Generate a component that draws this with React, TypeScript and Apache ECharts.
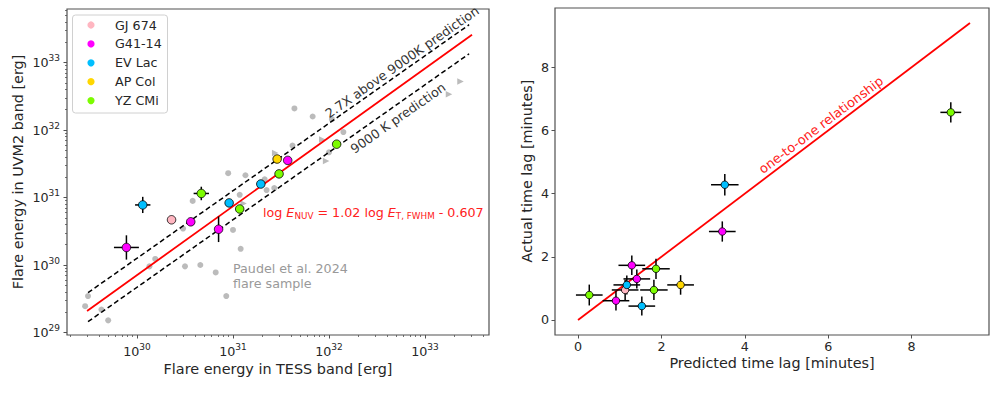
import React, { useEffect, useRef } from 'react';
import * as echarts from 'echarts';

const FONT = 'DejaVu Sans';

// ---------- shared star metadata ----------
const stars = ['GJ 674', 'G41-14', 'EV Lac', 'AP Col', 'YZ CMi'];
const starColors = ['#ffb6c1', '#ff00ff', '#00bfff', '#ffd700', '#7cfc00'];

// ---------- left panel: log10 flare energies [erg] ----------
const greyLogETess = [29.46, 29.49, 29.63, 29.70, 30.13, 30.19, 30.50, 30.66, 30.82, 30.93, 30.48, 30.58, 30.95, 31.13, 31.07, 31.00, 31.08, 31.33, 31.35, 31.43, 31.64, 31.83, 32.03, 32.15, 31.62, 32.00];
const greyLogEUvm2 = [29.39, 29.54, 29.34, 29.18, 29.98, 30.09, 29.98, 30.00, 29.89, 29.54, 30.54, 30.95, 31.36, 31.33, 31.04, 30.52, 30.24, 31.27, 31.11, 31.14, 32.32, 32.20, 32.16, 31.97, 31.77, 31.67];
const limitLogETess = [31.44, 31.93, 31.97, 33.25, 33.37, 31.11];
const limitLogEUvm2 = [31.66, 31.86, 31.54, 32.53, 32.72, 30.91];

const flareLogETess = [[30.36], [29.89, 30.56, 30.85, 31.57], [30.06, 30.96, 31.29], [31.46], [30.67, 31.07, 31.48, 32.08]];
const flareLogEUvm2 = [[30.67], [30.26, 30.64, 30.53, 31.55], [30.89, 30.92, 31.20], [31.57], [31.06, 30.83, 31.35, 31.79]];
const flareErrTess = [[0.03], [0.13, 0.03, 0.03, 0.03], [0.08, 0.03, 0.03], [0.03], [0.08, 0.03, 0.03, 0.03]];
const flareErrUvm2 = [[0.04], [0.18, 0.04, 0.19, 0.04], [0.12, 0.04, 0.04], [0.04], [0.10, 0.04, 0.04, 0.04]];

const fitLineLogETess = [29.48, 33.49];
const fitLineLogEUvm2 = [29.32, 33.41];
const predLineLogETess = [29.49, 33.46];
const pred9000KLogEUvm2 = [29.16, 33.13];
const pred27xLogEUvm2 = [29.59, 33.56];

const logMajorX = [30, 31, 32, 33];
const logMajorY = [29, 30, 31, 32, 33];

// ---------- right panel: time lags [minutes] ----------
const predictedLag = [[1.13], [0.91, 1.29, 1.41, 3.46], [1.17, 1.53, 3.52], [2.46], [0.27, 1.82, 1.87, 8.94]];
const actualLag = [[0.95], [0.61, 1.73, 1.30, 2.80], [1.11, 0.44, 4.28], [1.11], [0.79, 0.95, 1.62, 6.57]];
const predictedErr = [[0.32], [0.32, 0.32, 0.32, 0.32], [0.32, 0.32, 0.33], [0.32], [0.32, 0.33, 0.33, 0.25]];
const actualErr = [[0.32], [0.31, 0.31, 0.30, 0.32], [0.30, 0.30, 0.34], [0.31], [0.33, 0.32, 0.32, 0.32]];
const oneToOne = [0, 9.4];
const linTicks = [0, 2, 4, 6, 8];

// ---------- axis ranges (layout) ----------
const LX = [29.271, 33.667];
const LY = [28.963, 33.793];
const RX = [-0.552, 9.856];
const RY = [-0.475, 9.873];

const minorLog = (lo: number, hi: number) => {
  const out: number[] = [];
  for (let n = Math.floor(lo); n <= Math.ceil(hi); n++) {
    for (let k = 2; k <= 9; k++) {
      const v = n + Math.log10(k);
      if (v > lo && v < hi) out.push(v);
    }
  }
  return out;
};

const TXT = '#262626';
const FRAME = '#505050';

const powLabel = {
  formatter: (v: number) => `{b|10}{s|${Math.round(v)}}`,
  rich: {
    b: { fontFamily: FONT, fontSize: 12.7, color: TXT },
    s: { fontFamily: FONT, fontSize: 9, color: TXT, padding: [0, 0, 9, 0] },
  },
};

const errorBarItem = (params: any, api: any) => {
  const x = api.value(0), y = api.value(1), ex = api.value(2), ey = api.value(3);
  const l = api.coord([x - ex, y]), r = api.coord([x + ex, y]);
  const b = api.coord([x, y - ey]), t = api.coord([x, y + ey]);
  const style = { stroke: '#000', lineWidth: 1.5 };
  return {
    type: 'group',
    children: [
      { type: 'line', shape: { x1: l[0], y1: l[1], x2: r[0], y2: r[1] }, style },
      { type: 'line', shape: { x1: b[0], y1: b[1], x2: t[0], y2: t[1] }, style },
    ],
  };
};

function buildOption() {
  const series: any[] = [];

  series.push({
    type: 'scatter', xAxisIndex: 0, yAxisIndex: 0, z: 1, silent: true,
    symbolSize: 6, itemStyle: { color: '#aaaaaa' },
    data: greyLogETess.map((x, i) => [x, greyLogEUvm2[i]]),
  });
  series.push({
    type: 'scatter', xAxisIndex: 0, yAxisIndex: 0, z: 1, silent: true,
    symbol: 'triangle', symbolRotate: -90, symbolSize: 6.5, itemStyle: { color: '#aaaaaa' },
    data: limitLogETess.map((x, i) => [x, limitLogEUvm2[i]]),
  });

  const line = (xs: number[], ys: number[], color: string, type: any, width: number, xi: number) => ({
    type: 'line', xAxisIndex: xi, yAxisIndex: xi, z: 2, silent: true, showSymbol: false, symbol: 'none',
    lineStyle: { color, type, width },
    data: xs.map((x, i) => [x, ys[i]]),
  });
  series.push(line(predLineLogETess, pred27xLogEUvm2, '#000', [5, 3], 1.5, 0));
  series.push(line(predLineLogETess, pred9000KLogEUvm2, '#000', [5, 3], 1.5, 0));
  series.push(line(fitLineLogETess, fitLineLogEUvm2, '#ff0000', 'solid', 1.8, 0));
  series.push(line(oneToOne, oneToOne, '#ff0000', 'solid', 1.8, 2));

  const leftErr: number[][] = [];
  const rightErr: number[][] = [];
  stars.forEach((_, s) => {
    flareLogETess[s].forEach((x, j) => leftErr.push([x, flareLogEUvm2[s][j], flareErrTess[s][j], flareErrUvm2[s][j]]));
    predictedLag[s].forEach((x, j) => rightErr.push([x, actualLag[s][j], predictedErr[s][j], actualErr[s][j]]));
  });
  series.push({ type: 'custom', xAxisIndex: 0, yAxisIndex: 0, z: 3, silent: true, renderItem: errorBarItem, encode: { x: 0, y: 1 }, data: leftErr });
  series.push({ type: 'custom', xAxisIndex: 2, yAxisIndex: 2, z: 3, silent: true, renderItem: errorBarItem, encode: { x: 0, y: 1 }, data: rightErr });

  stars.forEach((name, s) => {
    series.push({
      name, type: 'scatter', xAxisIndex: 0, yAxisIndex: 0, z: 5, silent: true,
      symbolSize: 8.5, itemStyle: { color: starColors[s], borderColor: '#000', borderWidth: 0.8, opacity: 1 },
      data: flareLogETess[s].map((x, j) => [x, flareLogEUvm2[s][j]]),
    });
    series.push({
      name: name + ' lag', type: 'scatter', xAxisIndex: 2, yAxisIndex: 2, z: 5, silent: true,
      symbolSize: 7.5, itemStyle: { color: starColors[s], borderColor: '#000', borderWidth: 0.8, opacity: 1 },
      data: predictedLag[s].map((x, j) => [x, actualLag[s][j]]),
    });
  });

  const baseAxis = {
    type: 'value',
    axisLine: { show: false, onZero: false },
    splitLine: { show: false },
    scale: true,
  };

  const xAxis = [
    {
      ...baseAxis, gridIndex: 0, min: LX[0], max: LX[1], position: 'bottom',
      axisTick: { show: true, customValues: logMajorX, length: 3.5, lineStyle: { color: FRAME, width: 1 } },
      axisLabel: { ...powLabel, customValues: logMajorX, margin: 7 },
    },
    {
      ...baseAxis, gridIndex: 0, min: LX[0], max: LX[1], position: 'bottom',
      axisTick: { show: true, customValues: minorLog(LX[0], LX[1]), length: 2, lineStyle: { color: FRAME, width: 0.8 } },
      axisLabel: { show: false },
    },
    {
      ...baseAxis, gridIndex: 1, min: RX[0], max: RX[1], position: 'bottom',
      axisTick: { show: true, customValues: linTicks, length: 3.5, lineStyle: { color: FRAME, width: 1 } },
      axisLabel: { customValues: linTicks, margin: 5, fontFamily: FONT, fontSize: 12.7, color: TXT },
    },
  ];
  const yAxis = [
    {
      ...baseAxis, gridIndex: 0, min: LY[0], max: LY[1], position: 'left',
      axisTick: { show: true, customValues: logMajorY, length: 3.5, lineStyle: { color: FRAME, width: 1 } },
      axisLabel: { ...powLabel, customValues: logMajorY, margin: 7 },
    },
    {
      ...baseAxis, gridIndex: 0, min: LY[0], max: LY[1], position: 'left',
      axisTick: { show: true, customValues: minorLog(LY[0], LY[1]), length: 2, lineStyle: { color: FRAME, width: 0.8 } },
      axisLabel: { show: false },
    },
    {
      ...baseAxis, gridIndex: 1, min: RY[0], max: RY[1], position: 'left',
      axisTick: { show: true, customValues: linTicks, length: 3.5, lineStyle: { color: FRAME, width: 1 } },
      axisLabel: { customValues: linTicks, margin: 6, fontFamily: FONT, fontSize: 12.7, color: TXT },
    },
  ];

  const t = (text: string, x: number, y: number, opts: any = {}) => ({
    type: 'text', x, y, rotation: opts.rotation || 0, z: 100, silent: true,
    style: {
      text, fontFamily: FONT, fontSize: opts.fontSize || 12.7, fill: opts.fill || TXT,
      align: opts.align || 'center', verticalAlign: 'middle', rich: opts.rich,
    },
  });
  const deg = Math.PI / 180;

  const legendEls: any[] = [
    { type: 'rect', z: 90, silent: true, shape: { x: 72.5, y: 15, width: 95, height: 98, r: 3 }, style: { fill: 'rgba(255,255,255,0.8)', stroke: '#d0d0d0', lineWidth: 1 } },
  ];
  stars.forEach((name, s) => {
    const y = 25 + s * 18.9;
    legendEls.push({ type: 'circle', z: 100, silent: true, shape: { cx: 91, cy: y, r: 3.6 }, style: { fill: starColors[s] } });
    legendEls.push(t(name, 115, y, { align: 'left' }));
  });

  const red = '#ff2020';
  const eqRich = {
    n: { fontFamily: FONT, fontSize: 12.7, fill: red },
    i: { fontFamily: FONT, fontSize: 12.7, fontStyle: 'italic', fill: red },
    s: { fontFamily: FONT, fontSize: 8.8, fill: red, padding: [7, 0, 0, 0] },
  };

  const graphic = [
    ...legendEls,
    t('Flare energy in UVM2 band [erg]', 18, 172, { rotation: 90 * deg, fontSize: 14.4 }),
    t('Flare energy in TESS band [erg]', 278, 369, { fontSize: 14.4 }),
    t('Actual time lag [minutes]', 527, 171, { rotation: 90 * deg, fontSize: 14.4 }),
    t('Predicted time lag [minutes]', 772, 363, { fontSize: 14.4 }),
    t('2.7X above 9000K prediction', 402, 62, { rotation: 35 * deg, fill: '#333333' }),
    t('9000 K prediction', 398, 118, { rotation: 35 * deg, fill: '#333333' }),
    t('Paudel et al. 2024', 233, 268, { align: 'left', fill: '#999999' }),
    t('flare sample', 233, 283, { align: 'left', fill: '#999999' }),
    t('one-to-one relationship', 821, 125, { rotation: 37 * deg, fill: red, fontSize: 13 }),
    t('{n|log }{i|E}{s|NUV}{n| = 1.02 log }{i|E}{s|T, FWHM}{n| - 0.607}', 263, 212, { align: 'left', fill: red, rich: eqRich }),
  ];

  return {
    animation: false,
    backgroundColor: '#ffffff',
    textStyle: { fontFamily: FONT },
    grid: [
      { left: 67, top: 9, width: 422, height: 326, show: true, borderColor: FRAME, borderWidth: 1.2, backgroundColor: 'transparent', containLabel: false, outerBoundsMode: 'none' },
      { left: 555, top: 8, width: 434, height: 327, show: true, borderColor: FRAME, borderWidth: 1.2, backgroundColor: 'transparent', containLabel: false, outerBoundsMode: 'none' },
    ],
    xAxis,
    yAxis,
    series,
    graphic,
  };
}

export default function App() {
  const ref = useRef<HTMLDivElement>(null);
  useEffect(() => {
    if (!ref.current) return;
    const chart = echarts.init(ref.current, null, { renderer: 'svg' });
    chart.setOption(buildOption() as any);
    return () => chart.dispose();
  }, []);
  return (
    <div
      ref={ref}
      style={{ position: 'fixed', left: 0, top: 0, width: 1000, height: 395, background: '#fff' }}
    />
  );
}
